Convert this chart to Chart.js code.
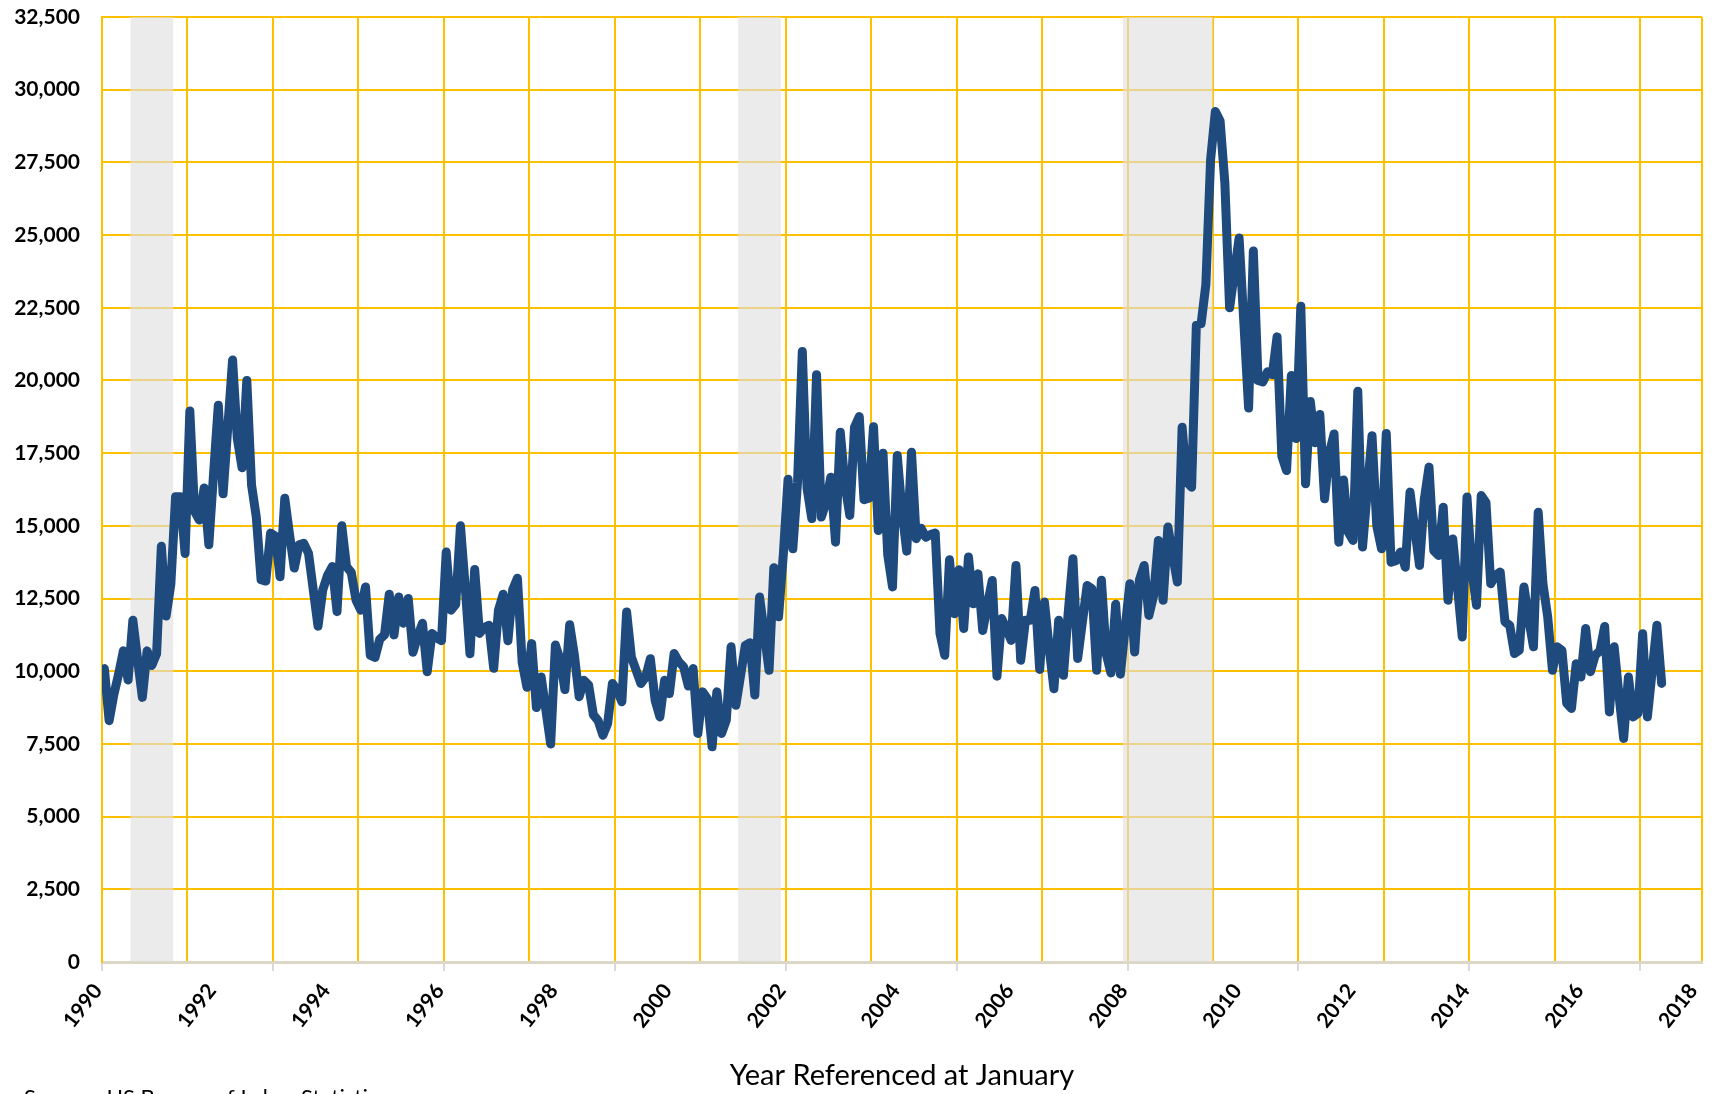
<!DOCTYPE html>
<html><head><meta charset="utf-8">
<script src="https://cdn.jsdelivr.net/npm/chart.js@4.4.1/dist/chart.umd.min.js"></script>
<style>html,body{margin:0;padding:0;background:#fff;overflow:hidden}canvas{display:block}</style>
</head><body>
<canvas id="c" width="1716" height="1094"></canvas>
<script>
// ---- data ----
const startYear = 1990;           // first month of the series is January 1990
const values = [
  10090, 8300, 9200, 9900, 10700, 9700, 11750, 10400, 9100, 10700, 10200, 10600,
  14300, 11900, 13000, 16000, 16000, 14050, 18950, 15500, 15200, 16300, 14350, 16800,
  19150, 16100, 18400, 20700, 18000, 17000, 20000, 16400, 15300, 13150, 13100, 14750,
  14650, 13250, 15950, 14700, 13550, 14350, 14400, 14050, 12800, 11550, 12800, 13300,
  13600, 12050, 15000, 13600, 13400, 12450, 12100, 12900, 10550, 10470, 11100, 11250,
  12650, 11250, 12550, 11650, 12500, 10650, 11200, 11650, 9980, 11300, 11150, 11050,
  14100, 12100, 12300, 15000, 12900, 10600, 13500, 11300, 11500, 11580, 10100, 12100,
  12650, 11050, 12800, 13200, 10300, 9450, 10950, 8750, 9800, 8650, 7500, 10900,
  10400, 9370, 11600, 10550, 9120, 9690, 9520, 8500, 8300, 7800, 8200, 9580,
  9350, 8950, 12040, 10490, 10030, 9580, 9800, 10430, 9000, 8430, 9690, 9230,
  10610, 10320, 10150, 9490, 10090, 7860, 9290, 9060, 7400, 9290, 7860, 8320,
  10840, 8830, 9850, 10890, 10980, 9180, 12550, 11300, 10030, 13560, 11870, 14000,
  16600, 14210, 16500, 21000, 16300, 15250, 20200, 15300, 15800, 16670, 14440, 18220,
  16400, 15360, 18400, 18760, 15900, 15950, 18410, 14840, 17500, 14000, 12900, 17420,
  15500, 14130, 17530, 14560, 14920, 14610, 14700, 14750, 11300, 10550, 13830, 11980,
  13490, 11470, 13930, 12320, 13350, 11400, 12300, 13120, 9830, 11810, 11450, 11060,
  13640, 10380, 11750, 11750, 12780, 10060, 12380, 10800, 9400, 11750, 9860, 12000,
  13870, 10440, 11700, 12950, 12840, 10030, 13130, 10600, 9940, 12300, 9900, 11500,
  13010, 10660, 13130, 13640, 11920, 12600, 14500, 12440, 14960, 14000, 13070, 18390,
  16500, 16330, 21900, 21950, 23300, 27600, 29250, 28920, 26800, 22500, 23700, 24900,
  22000, 19050, 24450, 20000, 19950, 20300, 20200, 21500, 17400, 16900, 20170, 18000,
  22550, 16450, 19280, 17860, 18830, 15930, 17500, 18160, 14440, 16580, 14780, 14500,
  19630, 14270, 16200, 18100, 15000, 14210, 18180, 13750, 13800, 14100, 13580, 16160,
  14900, 13640, 15900, 17020, 14150, 13980, 15640, 12440, 14550, 12900, 11180, 15990,
  13500, 12270, 16040, 15800, 13010, 13300, 13410, 11700, 11580, 10610, 10720, 12900,
  11800, 10840, 15470, 13000, 11870, 10030, 10840, 10720, 8900, 8720, 10260, 9800,
  11470, 9980, 10550, 10700, 11540, 8600, 10840, 9200, 7690, 9800, 8430, 8550,
  11290, 8430, 10000, 11580, 9580
];
const yTickValues = [0, 2500, 5000, 7500, 10000, 12500, 15000, 17500, 20000, 22500, 25000, 27500, 30000, 32500];
const xLabelYears = [1990, 1992, 1994, 1996, 1998, 2000, 2002, 2004, 2006, 2008, 2010, 2012, 2014, 2016, 2018];
const gridMonthStep = 18;      // vertical gridline spacing in months
const tickMarkMonthStep = 36;  // tick mark spacing in months
const axisEndMonth = 337;      // axis runs to Feb 2018
const recessionStarts = ['1990-07', '2001-03', '2007-12'];
const recessionEnds   = ['1991-03', '2001-11', '2009-06'];
const xAxisTitle = 'Year Referenced at January';
const sourceNote = 'Source:  US Bureau of Labor Statistics';

// ---- helpers ----
const GOLD = '#FFC000';
const monthIndex = s => { const [y, m] = s.split('-').map(Number); return (y - startYear) * 12 + (m - 1); };
const points = values.map((v, i) => ({ x: i + 0.5, y: v }));
const labelMonths = xLabelYears.map(y => (y - startYear) * 12);

const recessionPlugin = {
  id: 'recessions',
  beforeDatasetsDraw(chart) {
    const { ctx, chartArea, scales } = chart;
    ctx.save();
    ctx.fillStyle = 'rgba(222,222,222,0.62)';
    recessionStarts.forEach((s, i) => {
      const x1 = scales.x.getPixelForValue(monthIndex(s));
      const x2 = scales.x.getPixelForValue(monthIndex(recessionEnds[i]) + 1);
      ctx.fillRect(x1, chartArea.top, x2 - x1, chartArea.bottom - chartArea.top);
    });
    ctx.restore();
  }
};
const sourcePlugin = {
  id: 'source',
  afterDraw(chart) {
    const ctx = chart.ctx;
    ctx.save();
    ctx.font = '22px Lato';
    ctx.fillStyle = '#000';
    ctx.textBaseline = 'alphabetic';
    ctx.textAlign = 'left';
    ctx.fillText(sourceNote, 24, 1105);
    ctx.restore();
  }
};

new Chart(document.getElementById('c'), {
  type: 'line',
  data: {
    datasets: [{
      data: points,
      borderColor: '#1F4A7D',
      borderWidth: 9,
      pointRadius: 0,
      tension: 0,
      borderJoinStyle: 'round',
      borderCapStyle: 'round',
      fill: false
    }]
  },
  options: {
    responsive: false,
    animation: false,
    devicePixelRatio: 1,
    layout: { padding: { top: 17, right: 14, left: 0, bottom: 0 } },
    plugins: { legend: { display: false }, tooltip: { enabled: false } },
    scales: {
      x: {
        type: 'linear',
        min: 0,
        max: axisEndMonth,
        afterBuildTicks(scale) {
          const t = [];
          for (let v = 0; v <= axisEndMonth; v += 6) t.push({ value: v });
          t.push({ value: axisEndMonth });
          scale.ticks = t;
        },
        afterFit(scale) {
          scale.height = 132;
          scale.paddingLeft = 0; scale.paddingRight = 0;
          scale.paddingTop = 0; scale.paddingBottom = 0;
        },
        ticks: {
          autoSkip: false,
          maxRotation: 52,
          minRotation: 52,
          padding: 8,
          labelOffset: -4,
          color: '#000',
          font: { family: 'Lato', size: 21, weight: 'bold' },
          callback: (v) => labelMonths.includes(v) ? String(startYear + v / 12) : ''
        },
        grid: {
          color: (c) => (c.tick && (c.tick.value % gridMonthStep === 0 || c.tick.value === axisEndMonth)) ? GOLD : 'rgba(0,0,0,0)',
          lineWidth: 2,
          drawTicks: true,
          tickLength: 9,
          tickWidth: 2,
          tickColor: (c) => (c.tick && c.tick.value % tickMarkMonthStep === 0) ? '#D9D9D9' : 'rgba(0,0,0,0)'
        },
        border: { display: true, color: '#DCD6C4', width: 3 },
        title: {
          display: true,
          text: xAxisTitle,
          color: '#000',
          font: { family: 'Lato', size: 29 },
          padding: { top: 0, bottom: 1 }
        }
      },
      y: {
        min: 0,
        max: 32500,
        afterBuildTicks(scale) { scale.ticks = yTickValues.map(v => ({ value: v })); },
        afterFit(scale) {
          scale.width = 102;
          scale.paddingTop = 0; scale.paddingBottom = 0;
          scale.paddingLeft = 0; scale.paddingRight = 0;
        },
        ticks: {
          padding: 22,
          color: '#000',
          font: { family: 'Lato', size: 21, weight: 'bold' },
          callback: (v) => v.toLocaleString('en-US')
        },
        grid: {
          color: (c) => (c.tick && c.tick.value === 0) ? '#DCD6C4' : GOLD,
          lineWidth: 2,
          drawTicks: false
        },
        border: { display: true, color: GOLD, width: 2 }
      }
    }
  },
  plugins: [recessionPlugin, sourcePlugin]
});
</script>
</body></html>
